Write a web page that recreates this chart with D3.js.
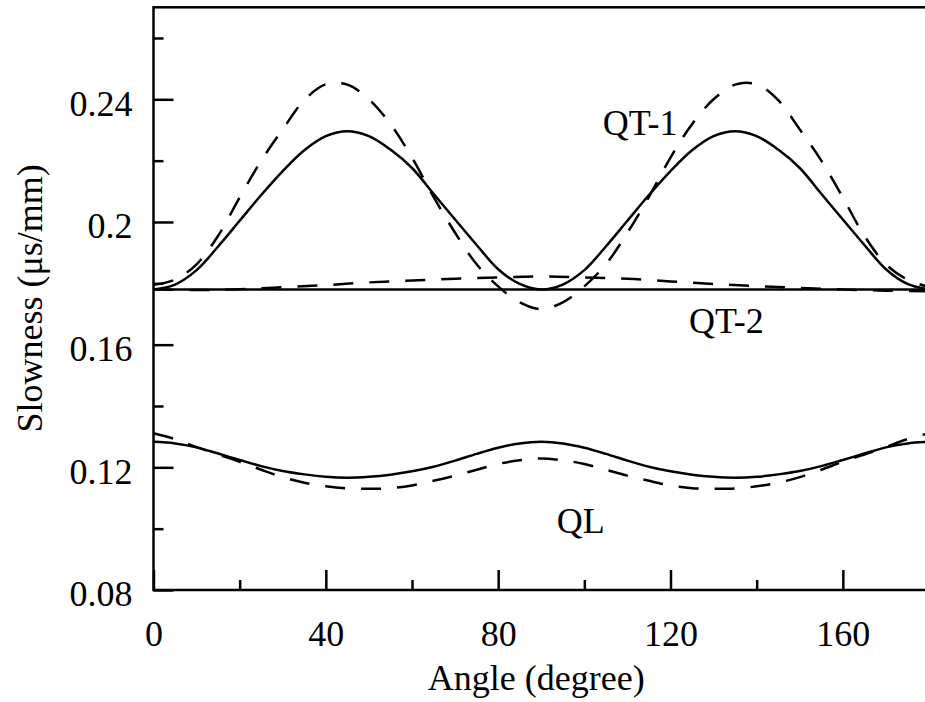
<!DOCTYPE html>
<html>
<head>
<meta charset="utf-8">
<script src="https://cdn.jsdelivr.net/npm/d3@7"></script>
<style>
    body { margin: 0; background: #fff; }
    svg { display: block; }
</style>
</head>
<body>
<div id="chart"></div>
<script>
const FONT = "'Liberation Serif'";

// Angles (degree) for the 5-degree series
const angles5 = d3.range(0, 181, 5);
// Angles for the 10-degree series
const angles10 = d3.range(0, 181, 10);

// QT-1 slowness (us/mm), solid and dashed
const qt1Solid = [0.1780, 0.1796, 0.1843, 0.1920, 0.2004, 0.2088, 0.2166, 0.2234, 0.2280, 0.2296,
    0.2280, 0.2236, 0.2176, 0.2092, 0.2008, 0.1925, 0.1846, 0.1798, 0.1780,
    0.1796, 0.1843, 0.1920, 0.2004, 0.2088, 0.2166, 0.2234, 0.2280, 0.2296,
    0.2280, 0.2236, 0.2176, 0.2092, 0.2008, 0.1925, 0.1846, 0.1798, 0.1780];
const qt1Dashed = [0.1795, 0.1812, 0.1862, 0.1955, 0.2080, 0.2200, 0.2302, 0.2397, 0.2449, 0.2448,
    0.2400, 0.2319, 0.2210, 0.2082, 0.1965, 0.1862, 0.1790, 0.1738, 0.1716,
    0.1738, 0.1790, 0.1862, 0.1965, 0.2082, 0.2210, 0.2319, 0.2400, 0.2448,
    0.2449, 0.2397, 0.2302, 0.2200, 0.2080, 0.1955, 0.1862, 0.1812, 0.1788];

// QT-2 slowness, on 10-degree angles
const qt2Solid = [0.178, 0.178, 0.178, 0.178, 0.178, 0.178, 0.178, 0.178, 0.178, 0.178,
    0.178, 0.178, 0.178, 0.178, 0.178, 0.178, 0.178, 0.178, 0.178];
const qt2Dashed = [0.1780, 0.1778, 0.1781, 0.1787, 0.1794, 0.1803, 0.1809, 0.1815, 0.1819, 0.1822,
    0.1819, 0.1815, 0.1806, 0.1798, 0.1791, 0.1785, 0.1780, 0.1776, 0.1774];

// QL slowness, on 5-degree angles
const qlSolid = [0.1283, 0.1278, 0.1265, 0.1245, 0.1224, 0.1204, 0.1188, 0.1177, 0.1169, 0.1166,
    0.1169, 0.1176, 0.1187, 0.1202, 0.1222, 0.1244, 0.1264, 0.1278, 0.1283,
    0.1278, 0.1264, 0.1244, 0.1222, 0.1202, 0.1187, 0.1176, 0.1169, 0.1166,
    0.1169, 0.1177, 0.1188, 0.1204, 0.1224, 0.1245, 0.1265, 0.1278, 0.1283];
const qlDashed = [0.1311, 0.1292, 0.1266, 0.1242, 0.1218, 0.1192, 0.1168, 0.1150, 0.1138, 0.1131,
    0.1130, 0.1132, 0.1141, 0.1156, 0.1173, 0.1192, 0.1211, 0.1223, 0.1229,
    0.1223, 0.1211, 0.1192, 0.1173, 0.1156, 0.1141, 0.1132, 0.1130, 0.1131,
    0.1138, 0.1150, 0.1168, 0.1192, 0.1218, 0.1242, 0.1266, 0.1292, 0.1311];

// Ticks
const xMajorTicks = [0, 40, 80, 120, 160];
const xMinorTicks = [20, 60, 100, 140];
const yMajorTicks = [0.08, 0.12, 0.16, 0.2, 0.24];
const yMinorTicks = [0.10, 0.14, 0.18, 0.22, 0.26];
const yTickLabels = ["0.08", "0.12", "0.16", "0.2", "0.24"];

// Curve labels (placed at angle / slowness of their baseline start)
const curveLabels = [
    {text: "QT-1", angle: 104.3, value: 0.2284},
    {text: "QT-2", angle: 124.3, value: 0.1638},
    {text: "QL", angle: 93.6, value: 0.0986}
];

class SlownessVis {
    constructor(_parentElement) {
        this.parentElement = _parentElement;
        this.initVis();
    }

    initVis() {
        let vis = this;

        vis.margin = {top: 7.3, left: 153.5};
        vis.width = 775.5;
        vis.height = 582.7;

        vis.svg = d3.select("#" + vis.parentElement)
            .append("svg")
            .attr("width", 925)
            .attr("height", 702)
            .append("g")
            .attr("transform", "translate(" + vis.margin.left + "," + vis.margin.top + ")");

        vis.x = d3.scaleLinear().domain([0, 180]).range([0, vis.width]);
        vis.y = d3.scaleLinear().domain([0.08, 0.27]).range([vis.height, 0]);

        // Minor ticks
        vis.svg.append("g")
            .attr("transform", "translate(0," + vis.height + ")")
            .call(d3.axisBottom(vis.x).tickValues(xMinorTicks).tickSize(-10).tickFormat(""))
            .call(g => g.select(".domain").remove());
        vis.svg.append("g")
            .call(d3.axisLeft(vis.y).tickValues(yMinorTicks).tickSize(-10).tickFormat(""))
            .call(g => g.select(".domain").remove());

        // Major ticks with labels
        vis.svg.append("g")
            .attr("transform", "translate(0," + vis.height + ")")
            .call(d3.axisBottom(vis.x).tickValues(xMajorTicks).tickSize(-20).tickPadding(30))
            .call(g => g.select(".domain").remove());

        vis.svg.append("g")
            .call(d3.axisLeft(vis.y).tickValues(yMajorTicks).tickSize(-20).tickPadding(21)
                .tickFormat((d, i) => yTickLabels[i]))
            .call(g => g.select(".domain").remove())
            .selectAll("text").attr("dy", "0.44em");

        vis.svg.selectAll(".tick line")
            .attr("stroke", "#000")
            .attr("stroke-width", 2.5);
        vis.svg.selectAll(".tick text")
            .attr("fill", "#000")
            .style("font-family", FONT)
            .style("font-size", "36px");

        // Frame
        vis.svg.append("rect")
            .attr("x", 0).attr("y", 0)
            .attr("width", vis.width).attr("height", vis.height)
            .attr("fill", "none")
            .attr("stroke", "#000")
            .attr("stroke-width", 2.5);

        // Axis titles
        vis.svg.append("text")
            .attr("x", vis.width / 2 - 5)
            .attr("y", 683)
            .attr("text-anchor", "middle")
            .style("font-family", FONT)
            .style("font-size", "36px")
            .text("Angle (degree)");

        vis.svg.append("text")
            .attr("transform", "rotate(-90)")
            .attr("x", -291)
            .attr("y", -112)
            .attr("text-anchor", "middle")
            .style("font-family", FONT)
            .style("font-size", "36px")
            .text("Slowness (\u03bcs/mm)");

        vis.updateVis();
    }

    updateVis() {
        let vis = this;

        let line = d3.line()
            .x(d => vis.x(d[0]))
            .y(d => vis.y(d[1]))
            .curve(d3.curveCatmullRom);

        let series = [
            {a: angles5, v: qt1Solid, dash: null},
            {a: angles5, v: qt1Dashed, dash: "20,16"},
            {a: angles10, v: qt2Solid, dash: null},
            {a: angles10, v: qt2Dashed, dash: "20,16"},
            {a: angles5, v: qlSolid, dash: null},
            {a: angles5, v: qlDashed, dash: "20,16"}
        ];

        series.forEach(s => {
            vis.svg.append("path")
                .datum(s.a.map((d, i) => [d, s.v[i]]))
                .attr("fill", "none")
                .attr("stroke", "#000")
                .attr("stroke-width", 2.5)
                .attr("stroke-dasharray", s.dash)
                .attr("d", line);
        });

        // Curve labels
        vis.svg.selectAll(".curve-label")
            .data(curveLabels)
            .enter()
            .append("text")
            .attr("class", "curve-label")
            .attr("x", d => vis.x(d.angle))
            .attr("y", d => vis.y(d.value))
            .style("font-family", FONT)
            .style("font-size", "36px")
            .text(d => d.text);
    }
}

new SlownessVis("chart");
</script>
</body>
</html>
